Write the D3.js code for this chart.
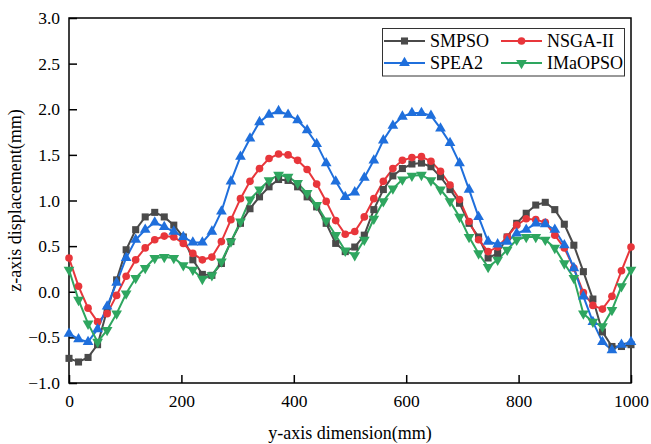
<!DOCTYPE html>
<html>
<head>
<meta charset="utf-8">
<script src="https://cdn.jsdelivr.net/npm/d3@7"></script>
<style>
  body { margin: 0; background: #fff; }
  text { font-family: "Liberation Serif", "Times New Roman", serif; fill: #000; }
</style>
</head>
<body>
<svg id="chart" width="651" height="444"></svg>
<script>
// sample positions along y-axis dimension (mm), 60 points from 0 to 1000
var xPositions = d3.range(60).map(function(i){ return i * 1000 / 59; });

var smpso = [-0.73,-0.77,-0.72,-0.58,-0.20,0.13,0.46,0.68,0.82,0.87,
             0.82,0.73,0.60,0.35,0.19,0.18,0.31,0.55,0.75,0.91,
             1.04,1.15,1.23,1.22,1.15,1.04,0.93,0.75,0.53,0.44,
             0.49,0.62,0.90,1.12,1.27,1.35,1.40,1.41,1.37,1.26,
             1.12,0.97,0.75,0.60,0.37,0.42,0.60,0.75,0.86,0.95,
             0.98,0.90,0.74,0.51,0.22,-0.08,-0.44,-0.60,-0.60,-0.58];

var nsga2 = [0.37,0.06,-0.18,-0.33,-0.24,-0.04,0.17,0.35,0.48,0.57,
             0.61,0.60,0.53,0.42,0.35,0.38,0.55,0.79,1.02,1.21,
             1.35,1.46,1.51,1.50,1.44,1.34,1.18,0.99,0.78,0.63,
             0.66,0.82,1.02,1.21,1.35,1.44,1.47,1.48,1.43,1.32,
             1.17,1.01,0.77,0.57,0.44,0.49,0.60,0.73,0.80,0.79,
             0.76,0.62,0.48,0.26,-0.01,-0.15,-0.19,-0.05,0.23,0.49];

var spea2 = [-0.46,-0.52,-0.55,-0.41,-0.16,0.10,0.37,0.57,0.68,0.76,
             0.71,0.66,0.60,0.54,0.54,0.66,0.88,1.21,1.48,1.68,
             1.86,1.94,1.98,1.94,1.88,1.77,1.62,1.41,1.21,1.04,
             1.09,1.25,1.44,1.66,1.82,1.92,1.96,1.96,1.93,1.79,
             1.63,1.41,1.12,0.82,0.55,0.52,0.55,0.64,0.68,0.75,
             0.74,0.68,0.51,0.26,-0.05,-0.33,-0.55,-0.64,-0.58,-0.55];

var imaopso = [0.24,-0.09,-0.35,-0.55,-0.42,-0.24,-0.02,0.15,0.26,0.37,
               0.38,0.37,0.29,0.24,0.14,0.18,0.33,0.55,0.77,1.01,
               1.12,1.22,1.28,1.26,1.19,1.08,0.95,0.78,0.62,0.45,
               0.40,0.57,0.80,0.99,1.13,1.23,1.27,1.28,1.22,1.12,
               0.99,0.82,0.60,0.42,0.27,0.35,0.46,0.57,0.60,0.60,
               0.57,0.48,0.31,0.15,-0.24,-0.33,-0.38,-0.20,0.06,0.24];

var xTicks = [0, 200, 400, 600, 800, 1000];
var yTicks = [-1.0, -0.5, 0.0, 0.5, 1.0, 1.5, 2.0, 2.5, 3.0];

var series = [
	{name: "SMPSO",   values: smpso,   color: "#4a4a4a", symbol: d3.symbolSquare,   size: 50, rot: 0},
	{name: "NSGA-II", values: nsga2,   color: "#e8363b", symbol: d3.symbolCircle,   size: 46, rot: 0},
	{name: "SPEA2",   values: spea2,   color: "#1f6fdc", symbol: d3.symbolTriangle, size: 50, rot: 0},
	{name: "IMaOPSO", values: imaopso, color: "#2ea65f", symbol: d3.symbolTriangle, size: 50, rot: 180}
];

var margin = {left: 69, right: 20, top: 18, bottom: 61};
var svg = d3.select("#chart");
var W = 651, H = 444;

var x = d3.scaleLinear().domain([0, 1000]).range([margin.left, W - margin.right]);
var y = d3.scaleLinear().domain([-1, 3]).range([H - margin.bottom, margin.top]);

// frame
svg.append("rect")
	.attr("x", x(0)).attr("y", y(3))
	.attr("width", x(1000) - x(0)).attr("height", y(-1) - y(3))
	.attr("fill", "none").attr("stroke", "#000").attr("stroke-width", 1.5);

// axes with inward ticks
var xAxis = svg.append("g")
	.attr("transform", "translate(0," + y(-1) + ")")
	.call(d3.axisBottom(x).tickValues(xTicks).tickFormat(d3.format("d")).tickSizeInner(-8).tickSizeOuter(0).tickPadding(12));
var yAxis = svg.append("g")
	.attr("transform", "translate(" + x(0) + ",0)")
	.call(d3.axisLeft(y).tickValues(yTicks).tickFormat(d3.format(".1f")).tickSizeInner(-8).tickSizeOuter(0).tickPadding(9));

[xAxis, yAxis].forEach(function(a){
	a.select(".domain").remove();
	a.selectAll(".tick line").attr("stroke", "#000").attr("stroke-width", 1.5);
	a.selectAll(".tick text").style("font-family", "Liberation Serif, serif").style("font-size", "17.5px").attr("fill", "#000");
});

// axis titles
svg.append("text")
	.attr("x", (x(0) + x(1000)) / 2).attr("y", 439)
	.attr("text-anchor", "middle").style("font-size", "18px")
	.text("y-axis dimension(mm)");
svg.append("text")
	.attr("transform", "translate(21," + ((y(-1) + y(3)) / 2) + ") rotate(-90)")
	.attr("text-anchor", "middle").style("font-size", "18px")
	.text("z-axis displacement(mm)");

var line = d3.line()
	.x(function(d, i){ return x(xPositions[i]); })
	.y(function(d){ return y(d); });

var plot = svg.append("g");

series.forEach(function(s){
	plot.append("path")
		.datum(s.values)
		.attr("d", line)
		.attr("fill", "none")
		.attr("stroke", s.color)
		.attr("stroke-width", 2);
});

series.forEach(function(s){
	var sym = d3.symbol().type(s.symbol).size(s.size);
	plot.selectAll(null)
		.data(s.values)
		.enter()
		.append("path")
		.attr("d", sym)
		.attr("transform", function(d, i){
			return "translate(" + x(xPositions[i]) + "," + y(d) + ") rotate(" + s.rot + ")";
		})
		.attr("fill", s.color);
});

// legend
var legend = svg.append("g");
legend.append("rect")
	.attr("x", 382.5).attr("y", 28.5).attr("width", 242).attr("height", 47.5)
	.attr("fill", "#fff").attr("stroke", "#333").attr("stroke-width", 1);

var legendPos = [
	{lx: 384, ty: 41},
	{lx: 501, ty: 41},
	{lx: 384, ty: 63},
	{lx: 501, ty: 63}
];
series.forEach(function(s, i){
	var p = legendPos[i];
	legend.append("line")
		.attr("x1", p.lx).attr("x2", p.lx + 41)
		.attr("y1", p.ty).attr("y2", p.ty)
		.attr("stroke", s.color).attr("stroke-width", 2);
	legend.append("path")
		.attr("d", d3.symbol().type(s.symbol).size(s.size)())
		.attr("transform", "translate(" + (p.lx + 20.5) + "," + p.ty + ") rotate(" + s.rot + ")")
		.attr("fill", s.color);
	legend.append("text")
		.attr("x", p.lx + 46).attr("y", p.ty + 6)
		.style("font-size", "18px")
		.text(s.name);
});
</script>
</body>
</html>
